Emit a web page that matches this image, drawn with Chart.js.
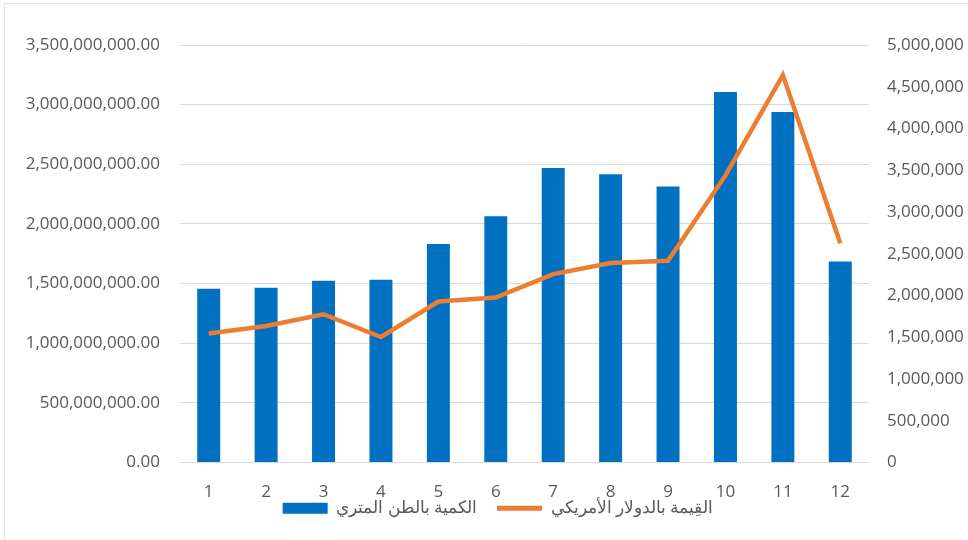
<!DOCTYPE html>
<html>
<head>
<meta charset="utf-8">
<script src="https://cdn.jsdelivr.net/npm/chart.js@4.4.1/dist/chart.umd.min.js"></script>
<style>
  html, body { margin: 0; padding: 0; background: #fff; }
  #wrap { position: relative; width: 968px; height: 540px; }
  #frame { position: absolute; left: 4px; top: 3px; width: 970px; height: 540px; border: 1px solid #e3e3e3; pointer-events: none; }
</style>
</head>
<body>
<div id="wrap">
  <canvas id="chart" width="968" height="540"></canvas>
  <div id="frame"></div>
</div>
<script>
// ---- DATA ----
const months = ["1", "2", "3", "4", "5", "6", "7", "8", "9", "10", "11", "12"];
const tons = [1456000000, 1465000000, 1523000000, 1531000000, 1831000000, 2064000000,
              2468000000, 2417000000, 2314000000, 3105000000, 2939000000, 1685000000];
const dollars = [1545000, 1635000, 1775000, 1502000, 1927000, 1975000,
                 2256000, 2388000, 2416000, 3438000, 4639000, 2624000];
const tonsLabel = "الكمية بالطن المتري";
const dollarsLabel = "القِيمة بالدولار الأمريكي";

const grey = "#595959";
const font = { family: "Open Sans", size: 17 };

// pull the legend up under the month labels, like the original
const legendNudge = {
  id: "legendNudge",
  afterLayout(chart) {
    const lg = chart.legend;
    lg.left += 12;
    lg.right += 12;
    lg.top -= 43;
    lg.bottom -= 43;
  }
};

// ---- CHART ----
const ctx = document.getElementById("chart").getContext("2d");
new Chart(ctx, {
  type: "bar",
  data: {
    labels: months,
    datasets: [
      { type: "bar", label: tonsLabel, data: tons, backgroundColor: "#0070C0",
        yAxisID: "y", order: 2, barPercentage: 0.4, categoryPercentage: 1 },
      { type: "line", label: dollarsLabel, data: dollars, borderColor: "#ED7D31",
        backgroundColor: "#ED7D31", borderWidth: 4.5, pointRadius: 0, tension: 0,
        yAxisID: "y1", order: 1 }
    ]
  },
  options: {
    responsive: false,
    animation: false,
    layout: { padding: { top: 45, left: 4, right: 0, bottom: -29.8 } },
    plugins: {
      tooltip: { enabled: false },
      legend: {
        position: "bottom",
        labels: {
          color: grey,
          font: { family: "Open Sans", size: 17 },
          usePointStyle: true,
          pointStyleWidth: 45,
          boxHeight: 11,
          padding: 20,
          sort: (a, b) => a.datasetIndex - b.datasetIndex,
          generateLabels: chart => {
            const items = Chart.defaults.plugins.legend.labels.generateLabels(chart);
            items.forEach(it => {
              it.pointStyle = it.datasetIndex === 0 ? "rect" : "line";
              if (it.datasetIndex === 1) it.lineWidth = 5;
            });
            return items;
          }
        }
      }
    },
    scales: {
      x: {
        grid: { display: false, drawTicks: false },
        border: { color: "#d9d9d9" },
        ticks: { color: grey, font: font, padding: 20 }
      },
      y: {
        position: "left",
        min: 0, max: 3500000000,
        ticks: {
          stepSize: 500000000, color: grey, font: font, padding: 20,
          callback: v => v.toLocaleString("en-US", { minimumFractionDigits: 2, maximumFractionDigits: 2 })
        },
        grid: { color: "#d9d9d9", drawTicks: false },
        border: { display: false },
        afterFit: a => { a.width = 176; }
      },
      y1: {
        position: "right",
        min: 0, max: 5000000,
        ticks: {
          stepSize: 500000, color: grey, font: font, padding: 18,
          callback: v => v.toLocaleString("en-US")
        },
        grid: { display: false, drawTicks: false },
        border: { display: false },
        afterFit: a => { a.width = 99; }
      }
    }
  },
  plugins: [legendNudge]
});
</script>
</body>
</html>
